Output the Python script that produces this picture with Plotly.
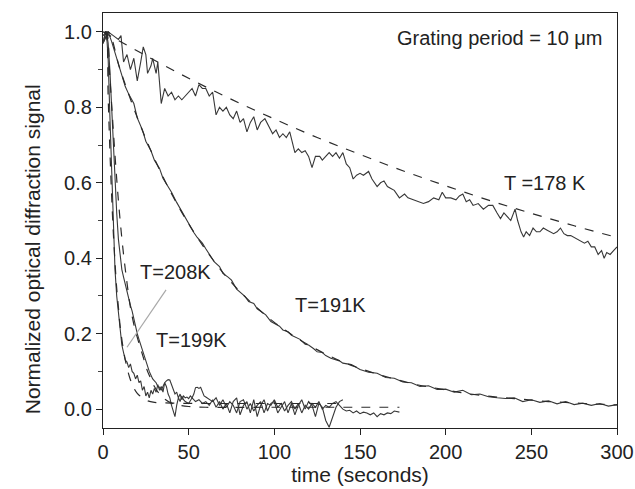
import plotly.graph_objects as go

# T = 178 K measured decay
t_178 = [0, 3, 6, 9, 10.5, 12, 14, 16, 18, 20, 22, 23.5, 25, 26, 28, 29, 31, 32, 34, 36,
         38, 40, 42, 44, 46, 48, 50, 52, 54, 56, 58, 60, 62, 64, 66, 68, 70, 72, 74, 76,
         78, 80, 82, 84, 86, 88, 90, 92, 94.5, 97, 99, 101, 103, 105, 107, 109, 111, 112, 114, 116,
         118, 120, 122, 124, 126.5, 128, 130, 132, 134, 136, 138, 140, 142, 144, 146, 148, 150, 152, 155, 157,
         160, 162, 164, 166, 168, 170, 173, 176, 178, 181, 184, 187, 190, 193, 196, 198, 200, 203, 206, 208,
         210, 212, 214, 216, 219, 222, 225, 227.5, 230, 232, 234, 236, 238, 240.5, 242, 244, 245.5, 247, 249, 251,
         253, 255, 257, 259, 261, 263, 265, 267, 269, 271, 273, 275, 277, 279, 281, 283, 285, 287, 289, 291,
         292.5, 294, 296, 298, 300]
y_178 = [0.97, 1.00, 0.99, 0.98, 0.99, 0.92, 0.94, 0.90, 0.93, 0.87, 0.92, 0.96, 0.94, 0.89, 0.91, 0.93, 0.89, 0.92, 0.81, 0.85,
         0.83, 0.84, 0.82, 0.83, 0.82, 0.83, 0.84, 0.85, 0.83, 0.86, 0.85, 0.85, 0.83, 0.84, 0.78, 0.80, 0.79, 0.80, 0.78, 0.77,
         0.79, 0.76, 0.77, 0.735, 0.76, 0.775, 0.74, 0.76, 0.77, 0.75, 0.73, 0.74, 0.72, 0.73, 0.72, 0.735, 0.70, 0.68, 0.69, 0.68,
         0.685, 0.67, 0.64, 0.67, 0.67, 0.66, 0.67, 0.68, 0.67, 0.68, 0.665, 0.68, 0.65, 0.64, 0.61, 0.62, 0.625, 0.62, 0.63, 0.61,
         0.59, 0.60, 0.605, 0.59, 0.585, 0.58, 0.56, 0.57, 0.56, 0.555, 0.55, 0.545, 0.55, 0.56, 0.555, 0.575, 0.56, 0.56, 0.555, 0.565,
         0.57, 0.55, 0.555, 0.54, 0.545, 0.53, 0.54, 0.54, 0.52, 0.505, 0.52, 0.51, 0.50, 0.53, 0.50, 0.47, 0.456, 0.47, 0.46, 0.48,
         0.47, 0.47, 0.48, 0.475, 0.47, 0.465, 0.47, 0.48, 0.465, 0.46, 0.46, 0.455, 0.45, 0.445, 0.44, 0.445, 0.43, 0.43, 0.41, 0.42,
         0.40, 0.415, 0.41, 0.42, 0.43]

# T = 178 K fit
fit_t_178 = [0, 25, 50, 75, 100, 125, 150, 175, 200, 225, 250, 275, 300]
fit_y_178 = [1.0, 0.937, 0.877, 0.821, 0.769, 0.720, 0.675, 0.632, 0.592, 0.554, 0.519, 0.486, 0.455]

# T = 191 K measured decay
t_191 = [0, 3, 5, 8, 10, 13, 15, 18, 20, 23, 25, 28, 30, 33, 35, 38, 40, 43, 45, 48,
         50, 53, 55, 58, 60, 63, 65, 68, 70, 73, 75, 78, 80, 83, 85, 88, 90, 93, 95, 98,
         100, 103, 105, 108, 110, 113, 115, 118, 120, 123, 125, 128, 130, 133, 135, 138, 140, 145, 150, 155,
         160, 165, 170, 175, 180, 185, 190, 195, 200, 205, 210, 215, 220, 225, 230, 235, 240, 245, 250, 255,
         260, 265, 270, 275, 280, 285, 290, 295, 300]
y_191 = [0.97, 1.00, 0.975, 0.93, 0.905, 0.855, 0.835, 0.81, 0.772, 0.74, 0.71, 0.685, 0.66, 0.638, 0.612, 0.59, 0.575, 0.548, 0.532, 0.505,
         0.49, 0.468, 0.455, 0.44, 0.425, 0.402, 0.39, 0.378, 0.36, 0.35, 0.342, 0.318, 0.31, 0.298, 0.285, 0.28, 0.266, 0.255, 0.25, 0.232,
         0.228, 0.22, 0.21, 0.205, 0.196, 0.19, 0.185, 0.172, 0.17, 0.16, 0.152, 0.15, 0.142, 0.135, 0.132, 0.128, 0.122, 0.118, 0.105, 0.098,
         0.095, 0.084, 0.082, 0.072, 0.07, 0.06, 0.062, 0.052, 0.053, 0.045, 0.05, 0.038, 0.04, 0.033, 0.03, 0.028, 0.03, 0.02, 0.025, 0.018,
         0.022, 0.014, 0.02, 0.012, 0.016, 0.01, 0.015, 0.008, 0.012]

# T = 191 K fit
fit_t_191 = [0, 3, 10, 20, 30, 40, 50, 60, 70, 80, 90, 100, 110, 120, 130, 140, 150, 160, 170, 180,
             190, 200, 210, 220, 230, 240, 250, 260, 270, 280, 290, 300]
fit_y_191 = [0.99, 1.0, 0.90, 0.773, 0.664, 0.571, 0.491, 0.422, 0.362, 0.311, 0.268, 0.230, 0.198, 0.170, 0.146, 0.125, 0.108, 0.093, 0.080, 0.068,
             0.059, 0.051, 0.043, 0.037, 0.032, 0.028, 0.024, 0.020, 0.018, 0.015, 0.013, 0.011]

# T = 199 K measured decay
t_199 = [0, 1, 2, 3, 4, 5, 6, 7, 8, 9, 10, 11, 12, 13, 14, 15, 16, 17, 18, 19,
         20, 21, 22, 23, 24, 25, 26, 27, 28, 29, 30, 31, 32, 33, 34, 35, 36, 37, 38, 39,
         40, 41, 42, 43, 44, 45, 46, 47, 48, 49, 50, 51, 52, 53, 54, 55, 56, 57, 58, 59,
         60, 62, 64, 66, 68, 70, 72, 74, 76, 78, 80, 82, 84, 86, 88, 90, 92, 94, 96, 98,
         100, 102, 104, 106, 108, 110, 112, 114, 116, 118, 120, 122, 124, 126, 128, 130, 132, 134, 136, 138,
         140, 142, 144, 146, 148, 150, 152, 154, 156, 158, 160, 162, 164, 166, 168, 170, 173]
y_199 = [0.97, 0.99, 1.0, 0.97, 0.90, 0.80, 0.70, 0.60, 0.52, 0.45, 0.40, 0.37, 0.35, 0.33, 0.31, 0.29, 0.275, 0.26, 0.24, 0.215,
         0.20, 0.185, 0.17, 0.16, 0.145, 0.13, 0.115, 0.10, 0.09, 0.08, 0.075, 0.07, 0.06, 0.058, 0.05, 0.06, 0.07, 0.075, 0.078, 0.077,
         0.065, 0.05, 0.04, 0.045, 0.03, 0.04, 0.025, 0.035, 0.03, 0.032, 0.028, 0.035, 0.03, 0.04, 0.057, 0.058, 0.055, 0.058, 0.045, 0.035,
         0.032, 0.025, 0.02, 0.03, 0.01, 0.025, 0.005, 0.02, 0.01, -0.01, 0.02, 0.025, 0.0, 0.015, -0.005, 0.01, 0.02, -0.01, 0.015, 0.01,
         0.025, 0.005, 0.015, -0.005, 0.01, 0.02, 0.0, 0.015, -0.01, 0.01, 0.0, 0.015, 0.005, 0.02, 0.0, 0.01, 0.005, 0.015, 0.02, 0.01,
         0.0, -0.005, -0.003, -0.01, -0.005, -0.012, -0.008, -0.01, -0.015, -0.01, -0.02, -0.012, -0.015, -0.01, -0.012, -0.005, -0.008]

# T = 199 K fit
fit_t_199 = [1, 2, 4, 6, 8, 10, 12, 14, 16, 18, 20, 22, 24, 26, 28, 30, 33, 36, 40, 45, 50, 60, 100, 173]
fit_y_199 = [1.0, 1.0, 0.88, 0.74, 0.61, 0.50, 0.41, 0.335, 0.27, 0.225, 0.19, 0.16, 0.13, 0.10, 0.08, 0.06, 0.04, 0.027, 0.016, 0.01, 0.007, 0.005, 0.005, 0.005]

# T = 208 K measured decay
t_208 = [0, 1, 2, 3, 4, 5, 6, 7, 8, 9, 10, 11, 12, 13, 14, 15, 16, 17, 18, 19,
         20, 21, 22, 23, 24, 25, 26, 27, 28, 29, 30, 31, 32, 33, 34, 35, 36, 37, 38, 39,
         40, 41, 42, 43, 44, 45, 46, 47, 48, 50, 52, 54, 56, 58, 60, 62, 64, 66, 68, 70,
         72, 74, 76, 78, 80, 82, 84, 86, 88, 90, 92, 94, 96, 98, 100, 102, 104, 106, 108, 110,
         112, 114, 116, 118, 120, 122, 124, 126, 128, 130, 132, 134, 136, 138, 140]
y_208 = [0.97, 0.99, 1.0, 0.93, 0.78, 0.62, 0.46, 0.37, 0.30, 0.25, 0.20, 0.17, 0.15, 0.13, 0.125, 0.11, 0.12, 0.10, 0.095, 0.08,
         0.09, 0.07, 0.075, 0.05, 0.06, 0.035, 0.045, 0.03, 0.05, 0.04, 0.055, 0.045, 0.065, 0.05, 0.06, 0.045, 0.07, 0.06, 0.04, 0.03,
         0.01, -0.005, -0.02, 0.01, 0.03, 0.02, 0.035, 0.025, 0.02, 0.015, 0.03, 0.02, 0.025, 0.015, 0.02, 0.01, 0.025, 0.005, 0.02, 0.0,
         0.015, -0.01, 0.02, 0.03, -0.015, 0.01, 0.02, -0.01, 0.025, -0.02, 0.01, 0.025, -0.005, 0.015, 0.02, -0.01, 0.005, 0.02, -0.01, 0.015,
         -0.015, 0.01, 0.025, 0.0, 0.02, 0.01, -0.02, 0.015, 0.005, -0.03, -0.048, -0.02, 0.005, 0.02, 0.025]

# T = 208 K fit
fit_t_208 = [1, 2, 3, 4, 5, 6, 7, 8, 9, 10, 12, 14, 16, 18, 20, 23, 26, 30, 40, 60, 100, 140]
fit_y_208 = [1.0, 0.99, 0.83, 0.69, 0.57, 0.47, 0.39, 0.32, 0.27, 0.22, 0.155, 0.11, 0.078, 0.056, 0.042, 0.03, 0.022, 0.018, 0.016, 0.015, 0.015, 0.015]

labels = ["Grating period = 10 \u03bcm", "T =178 K", "T=191K", "T=208K", "T=199K"]
label_x = [293, 258, 132.5, 42.6, 51.4]
label_y = [0.984, 0.60, 0.276, 0.363, 0.183]

data_color = "#383838"
fit_color = "#2a2a2a"

fig = go.Figure()

for tx, ty in [(t_178, y_178), (t_191, y_191), (t_199, y_199), (t_208, y_208)]:
    fig.add_trace(go.Scatter(x=tx, y=ty, mode="lines",
                             line=dict(color=data_color, width=1.1)))

for tx, ty in [(fit_t_178, fit_y_178), (fit_t_191, fit_y_191),
               (fit_t_199, fit_y_199), (fit_t_208, fit_y_208)]:
    fig.add_trace(go.Scatter(x=tx, y=ty, mode="lines",
                             line=dict(color=fit_color, width=1.2, dash="dash", shape="spline")))

# leader line for the 208 K label
fig.add_trace(go.Scatter(x=[36.8, 14], y=[0.316, 0.164], mode="lines",
                         line=dict(color="#a8a8a8", width=1.2)))

font = dict(family="Liberation Sans, Arial, sans-serif", size=20, color="#222")

for i, txt in enumerate(labels):
    fig.add_annotation(x=label_x[i], y=label_y[i], text=txt, showarrow=False,
                       xanchor="right" if i == 0 else "center", font=font)

fig.add_annotation(x=-0.163, y=0.43, xref="paper", yref="paper",
                   text="Normalized optical diffraction signal", textangle=-90,
                   showarrow=False, font=dict(font, size=21))

fig.update_layout(
    width=635, height=489,
    margin=dict(l=103, r=18, t=13, b=61),
    paper_bgcolor="white", plot_bgcolor="white",
    showlegend=False,
    font=font,
    xaxis=dict(
        range=[0, 300], dtick=50, tick0=0,
        showgrid=False, zeroline=False, automargin=False,
        showline=True, linecolor="#222", linewidth=1.3, mirror=True,
        ticks="outside", ticklen=6, tickwidth=1.2, tickcolor="#222",
        tickfont=dict(font, size=20),
        title=dict(text="time (seconds)", font=dict(font, size=21), standoff=2),
    ),
    yaxis=dict(
        range=[-0.05, 1.05], dtick=0.2, tick0=0, tickformat=".1f",
        showgrid=False, zeroline=False, automargin=False,
        showline=True, linecolor="#222", linewidth=1.3, mirror=True,
        ticks="outside", ticklen=6, tickwidth=1.2, tickcolor="#222",
        tickfont=dict(font, size=20),
        minor=dict(dtick=0.1, tick0=0, ticks="outside", ticklen=4, tickcolor="#444"),
    ),
)

# the page's default 8px body margin would shift the figure
fig.write_html("out.html", config={"displayModeBar": False},
               post_script="document.body.style.margin='0';")
